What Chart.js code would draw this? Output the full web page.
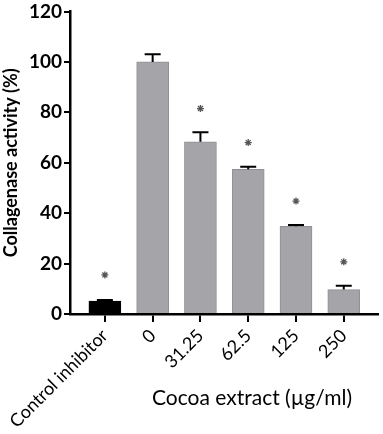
<!DOCTYPE html>
<html>
<head>
<meta charset="utf-8">
<script src="https://cdn.jsdelivr.net/npm/chart.js@4.4.1/dist/chart.umd.min.js"></script>
<style>
	html, body { margin: 0; padding: 0; background: #fff; }
	#wrap { width: 383px; height: 434px; }
</style>
</head>
<body>
<div id="wrap"><canvas id="collagenase" width="383" height="434"></canvas></div>
<script>
// data
const categories = ["Control inhibitor", "0", "31.25", "62.5", "125", "250"];
const activity = [5.1, 100, 68.3, 57.4, 34.8, 9.7];
const errorTop = [5.6, 103, 72.1, 58.4, 35.3, 11.2];
const starY = [15.5, null, 81.5, 68, 44.8, 20.7];
const barColors = ["#000000", "#a4a4a9", "#a4a4a9", "#a4a4a9", "#a4a4a9", "#a4a4a9"];
const yTicks = [0, 20, 40, 60, 80, 100, 120];
const xTitle = "Cocoa extract (µg/ml)";
const yTitle = "Collagenase activity (%)";

const FONT = "Lato, 'Open Sans', sans-serif";

// error bars, drawn upward only with a cap
const errorBarPlugin = {
	id: "errorBars",
	afterDatasetsDraw(chart) {
		const { ctx, scales } = chart;
		ctx.save();
		ctx.strokeStyle = "#000";
		ctx.lineWidth = 2;
		errorTop.forEach((top, i) => {
			const x = scales.x.getPixelForValue(i);
			const y0 = scales.y.getPixelForValue(activity[i]);
			const y1 = scales.y.getPixelForValue(top);
			ctx.beginPath();
			ctx.moveTo(x, y0);
			ctx.lineTo(x, y1);
			ctx.moveTo(x - 8, y1);
			ctx.lineTo(x + 8, y1);
			ctx.stroke();
		});
		ctx.restore();
	},
};

// x title sits right of the rotated labels
const xTitlePlugin = {
	id: "xTitle",
	afterDraw(chart) {
		const { ctx } = chart;
		ctx.save();
		ctx.fillStyle = "#000";
		ctx.font = "21px " + FONT;
		ctx.textAlign = "center";
		ctx.textBaseline = "middle";
		ctx.fillText(xTitle, 252, 398);
		ctx.restore();
	},
};

const ctx = document.getElementById("collagenase").getContext("2d");

new Chart(ctx, {
	type: "bar",
	data: {
		datasets: [
			{
				type: "bar",
				data: activity.map((v, i) => ({ x: i, y: v })),
				backgroundColor: barColors,
				borderColor: barColors.map((c) => (c === "#000000" ? "#000" : "#8f8f94")),
				borderWidth: 1,
				barThickness: 32,
				order: 2,
			},
			{
				type: "line",
				data: starY.map((v, i) => ({ x: i, y: v })),
				showLine: false,
				pointStyle: "star",
				pointRadius: 3.5,
				pointBorderColor: "#555",
				pointBorderWidth: 1.3,
				order: 1,
			},
		],
	},
	options: {
		responsive: false,
		animation: false,
		layout: { padding: { top: 0, right: 3, left: 0, bottom: 0 } },
		plugins: {
			legend: { display: false },
			tooltip: { enabled: false },
		},
		scales: {
			x: {
				type: "linear",
				offset: false,
				min: -0.73,
				max: 5.71,
				afterBuildTicks: (scale) => {
					scale.ticks = categories.map((_, i) => ({ value: i }));
				},
				afterFit: (scale) => {
					scale.height = 120;
				},
				border: { color: "#000", width: 2.5 },
				grid: {
					offset: false,
					drawOnChartArea: false,
					drawTicks: true,
					tickLength: 8,
					color: "#000",
					lineWidth: 2,
				},
				ticks: {
					autoSkip: false,
					minRotation: 45,
					maxRotation: 45,
					padding: 3,
					color: "#000",
					font: { family: FONT, size: 18 },
					callback: (v) => categories[v],
				},
			},
			y: {
				min: 0,
				max: 120,
				afterBuildTicks: (scale) => {
					scale.ticks = yTicks.map((v) => ({ value: v }));
				},
				afterFit: (scale) => {
					scale.width = 70;
				},
				border: { color: "#000", width: 2.5 },
				grid: {
					drawOnChartArea: false,
					drawTicks: true,
					tickLength: 6,
					color: "#000",
					lineWidth: 2,
				},
				ticks: {
					padding: 2,
					color: "#000",
					font: { family: FONT, size: 19, weight: "bold", lineHeight: 1 },
				},
				title: {
					display: true,
					text: yTitle,
					color: "#000",
					font: { family: FONT, size: 18, weight: "bold" },
					padding: { top: 0, bottom: 0 },
				},
			},
		},
	},
	plugins: [errorBarPlugin, xTitlePlugin],
});
</script>
</body>
</html>
